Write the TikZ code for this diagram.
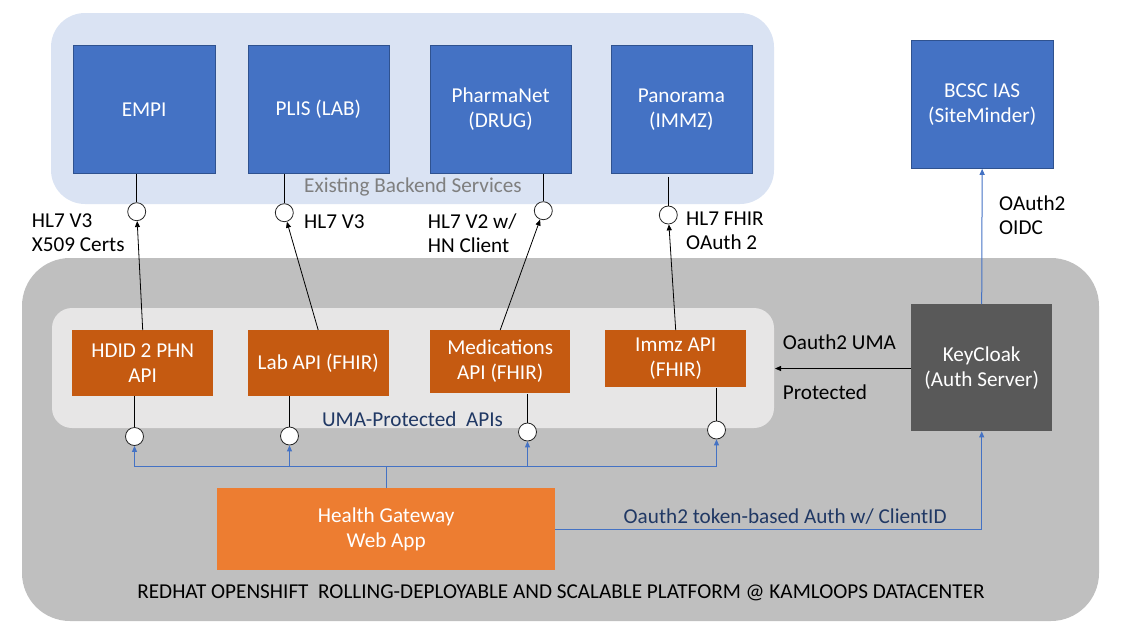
\documentclass[tikz,border=0pt]{standalone}
\usepackage{fontspec}
\setmainfont{Carlito}
\usetikzlibrary{arrows.meta,calc}
\definecolor{bluepanel}{HTML}{DAE3F3}
\definecolor{boxblue}{HTML}{4472C4}
\definecolor{boxblueedge}{HTML}{2F528F}
\definecolor{platgray}{HTML}{BFBFBF}
\definecolor{innergray}{HTML}{E7E6E6}
\definecolor{apiorange}{HTML}{C55A11}
\definecolor{gworange}{HTML}{ED7D31}
\definecolor{kcgray}{HTML}{595959}
\definecolor{darkblue}{HTML}{203864}
\definecolor{textgray}{HTML}{7F7F7F}
\tikzset{
  lbl/.style={font=\fontsize{21.2}{24}\selectfont, inner sep=0pt, align=left},
  boxfont/.style={font=\fontsize{21.2}{25}\selectfont},
  backbox/.style={fill=boxblue, draw=boxblueedge, line width=0.8pt, text=white, anchor=north west, align=center, inner sep=0pt, boxfont},
  apibox/.style={fill=apiorange, text=white, anchor=north west, align=center, inner sep=0pt, boxfont},
  port/.style={circle, draw=black!85, fill=white, line width=0.8pt, minimum size=18pt, inner sep=0pt},
  blk/.style={draw=black, line width=0.8pt},
  blkarr/.style={blk, -{Triangle[length=6pt,width=5pt]}},
  bl/.style={draw=boxblue, line width=1pt},
  blarr/.style={bl, -{Triangle[length=6pt,width=5pt]}},
}
\begin{document}
\begin{tikzpicture}[x=1pt,y=-1pt]
\useasboundingbox (0,0) rectangle (1122,627);
% panels
\fill[bluepanel, rounded corners=34pt] (51,13) rectangle (774,204);
\fill[platgray, rounded corners=48pt] (22,258) rectangle (1099,621);
\fill[innergray, rounded corners=20pt] (52,308) rectangle (774,428);

% backend boxes
\node[backbox, minimum width=141.5pt, minimum height=128pt] (empi) at (73,45) {EMPI};
\node[backbox, minimum width=141pt, minimum height=128pt] (plis) at (247.5,45) {PLIS (LAB)};
\node[backbox, minimum width=141pt, minimum height=128pt] (pharma) at (429.7,45) {PharmaNet\\(DRUG)};
\node[backbox, minimum width=141pt, minimum height=128pt] (pano) at (610.5,45) {Panorama\\(IMMZ)};
\node[backbox, minimum width=141.5pt, minimum height=128pt] (bcsc) at (911,40) {BCSC IAS\\(SiteMinder)};
\node[lbl, text=textgray] (ebs) at (413,187) {Existing Backend Services};

% API boxes
\node[apibox, minimum width=141pt, minimum height=66pt] (hdid) at (72,330) {HDID 2 PHN\\API};
\node[apibox, minimum width=141pt, minimum height=66pt] (lab) at (247.5,330) {Lab API (FHIR)};
\node[apibox, minimum width=140pt, minimum height=62.5pt] (med) at (430,330) {Medications\\API (FHIR)};
\node[apibox, minimum width=141pt, minimum height=57pt] (immz) at (605,330) {Immz API\\(FHIR)};
\node[lbl, text=darkblue] (uma) at (412.5,419) {UMA-Protected\ \ APIs};

% KeyCloak and gateway
\node[fill=kcgray, text=white, anchor=north west, align=center, inner sep=0pt, minimum width=141pt, minimum height=127pt, boxfont] (kc) at (911,304) {KeyCloak\\(Auth Server)};
\node[fill=gworange, text=white, anchor=north west, align=center, inner sep=0pt, minimum width=338pt, minimum height=82pt, boxfont] (gw) at (217,488) {Health Gateway\\Web App};

% ports
\node[port] (p1) at (136.7,211.7) {};
\node[port] (p2) at (284.3,212.7) {};
\node[port] (p3) at (543.3,210.7) {};
\node[port] (p4) at (668.3,215) {};
\node[port] (q1) at (134.5,436.5) {};
\node[port] (q2) at (289.5,436) {};
\node[port] (q3) at (527.5,432) {};
\node[port] (q4) at (716.5,430) {};

% backend to ports
\draw[blk] (p1 |- empi.south) -- (p1);
\draw[blk] (p2 |- plis.south) -- (p2);
\draw[blk] (p3 |- pharma.south) -- (p3);
\draw[blk] ($(p4 |- pano.south)+(0,3)$) -- (p4);
% API to backend ports
\draw[blkarr] (hdid.north) -- (p1);
\draw[blkarr] (lab.north) -- (p2);
\draw[blkarr] (med.north) -- (p3);
\draw[blkarr] (immz.north) -- (p4);
% API to lower ports
\draw[blk] (q1 |- hdid.south) -- (q1);
\draw[blk] (q2 |- lab.south) -- (q2);
\draw[blk] ($(q3 |- med.south)+(0,1)$) -- (q3);
\draw[blk] ($(q4 |- immz.south)+(0,1)$) -- (q4);

% gateway fan-out
\coordinate (hub) at (386,466);
\draw[bl] (gw.north -| hub) -- (hub);
\draw[blarr] (hub) -| (q1);
\draw[blarr] (hub) -| (q2);
\draw[blarr] (hub) -| (q3);
\draw[blarr] (hub) -| (q4);

% gateway to keycloak
\draw[blarr] (gw.east) -| (kc.south);
\node[lbl, text=darkblue, anchor=west] (tok) at (623.5,517) {Oauth2 token-based Auth w/ ClientID};

% keycloak to APIs panel
\coordinate (panelE) at (775,368.5);
\draw[blkarr] (kc.west |- panelE) -- (panelE);
\node[lbl, anchor=west] (uma1) at (782.7,342) {Oauth2 UMA};
\node[lbl, anchor=west] (uma2) at (782.7,392) {Protected};

% keycloak to BCSC
\draw[blarr] (kc.north) -- (bcsc.south);
\node[lbl, anchor=west] (oidc) at (999,215.5) {OAuth2\\OIDC};

% protocol labels
\node[lbl, anchor=west] (l1) at (31.7,232.5) {HL7 V3\\X509 Certs};
\node[lbl, anchor=west] (l2) at (304,222) {HL7 V3};
\node[lbl, anchor=west] (l3) at (427.7,233) {HL7 V2 w/\\HN Client};
\node[lbl, anchor=west] (l4) at (686,230.7) {HL7 FHIR\\OAuth 2};

% platform label
\node[lbl] (plat) at (561,593) {REDHAT OPENSHIFT\ \ ROLLING-DEPLOYABLE AND SCALABLE PLATFORM @ KAMLOOPS DATACENTER};
\end{tikzpicture}
\end{document}
